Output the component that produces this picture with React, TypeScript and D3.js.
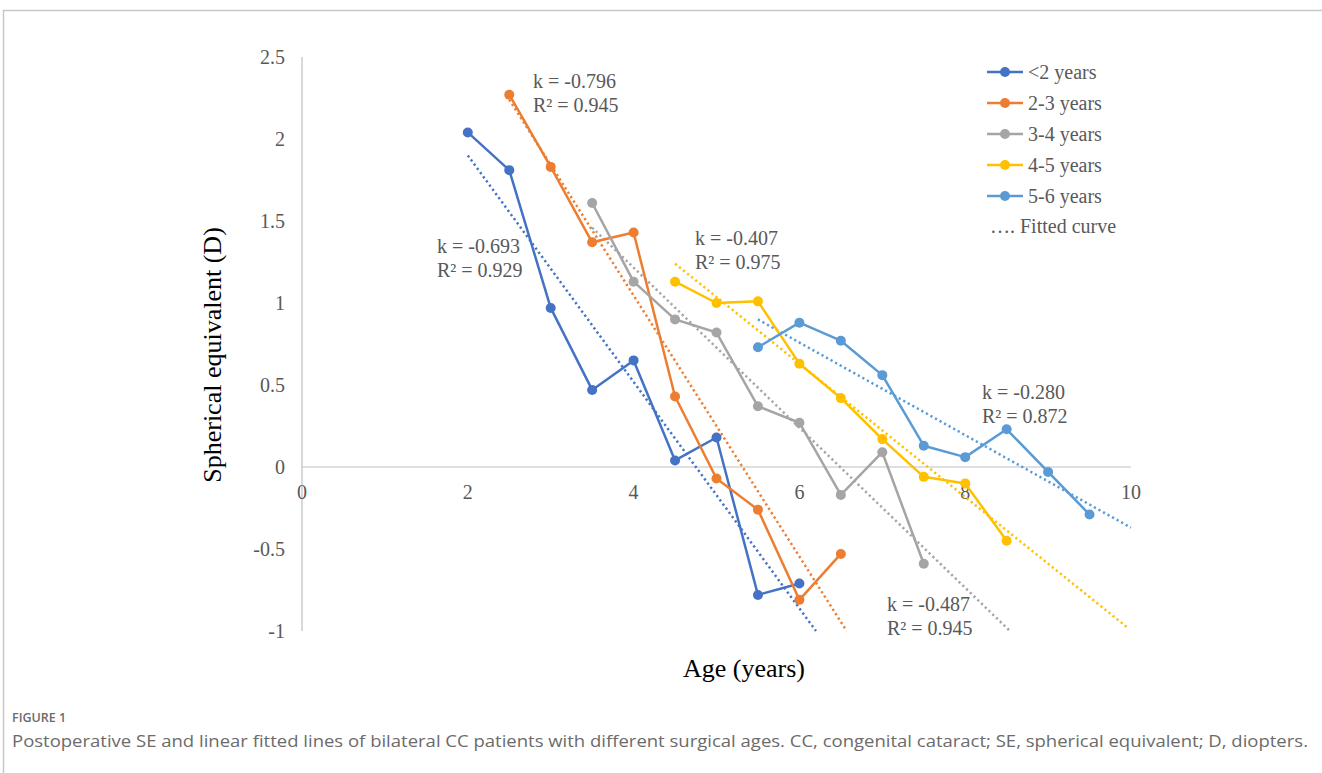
import React, { useRef, useEffect } from "react";
import * as d3 from "d3";

// ages (years after surgery) and spherical equivalent (D) for each surgical age group
const seriesNames = ["<2 years", "2-3 years", "3-4 years", "4-5 years", "5-6 years"];
const seriesColors = ["#4472C4", "#ED7D31", "#A5A5A5", "#FFC000", "#5B9BD5"];

const ageUnder2 = [2, 2.5, 3, 3.5, 4, 4.5, 5, 5.5, 6];
const seUnder2 = [2.04, 1.81, 0.97, 0.47, 0.65, 0.04, 0.18, -0.78, -0.71];

const age2to3 = [2.5, 3, 3.5, 4, 4.5, 5, 5.5, 6, 6.5];
const se2to3 = [2.27, 1.83, 1.37, 1.43, 0.43, -0.07, -0.26, -0.81, -0.53];

const age3to4 = [3.5, 4, 4.5, 5, 5.5, 6, 6.5, 7, 7.5];
const se3to4 = [1.61, 1.13, 0.9, 0.82, 0.37, 0.27, -0.17, 0.09, -0.59];

const age4to5 = [4.5, 5, 5.5, 6, 6.5, 7, 7.5, 8, 8.5];
const se4to5 = [1.13, 1.0, 1.01, 0.63, 0.42, 0.17, -0.06, -0.1, -0.45];

const age5to6 = [5.5, 6, 6.5, 7, 7.5, 8, 8.5, 9, 9.5];
const se5to6 = [0.73, 0.88, 0.77, 0.56, 0.13, 0.06, 0.23, -0.03, -0.29];

// fitted trend lines: [x0, y0, x1, y1]
const fitLines = [
  [2, 1.9, 6.2, -1.0],
  [2.5, 2.24, 6.57, -1.0],
  [3.5, 1.46, 8.54, -1.0],
  [4.5, 1.24, 9.96, -0.98],
  [5.5, 0.9, 10, -0.37],
];

// annotation labels: left x and baseline y in pixels, slope and R²
const fitLabels = [
  { x: 437, y: 253, k: "-0.693", r2: "0.929" },
  { x: 533, y: 88, k: "-0.796", r2: "0.945" },
  { x: 887, y: 611, k: "-0.487", r2: "0.945" },
  { x: 695, y: 245, k: "-0.407", r2: "0.975" },
  { x: 982, y: 399, k: "-0.280", r2: "0.872" },
];

const xTicks = [0, 2, 4, 6, 8, 10];
const yTicks = [-1, -0.5, 0, 0.5, 1, 1.5, 2, 2.5];

const captionTitle = "FIGURE 1";
const captionText =
  "Postoperative SE and linear fitted lines of bilateral CC patients with different surgical ages. CC, congenital cataract; SE, spherical equivalent; D, diopters.";

const App = () => {
  const svgRef = useRef<SVGSVGElement>(null);

  useEffect(() => {
    document.body.style.margin = "0";
    const width = 1322;
    const height = 773;
    const serif = "'Liberation Serif', 'Times New Roman', serif";
    const textGray = "#595959";

    const svg = d3.select(svgRef.current)
      .attr("width", width)
      .attr("height", height)
      .attr("viewBox", [0, 0, width, height].join(" "));
    svg.selectAll("*").remove();

    svg.append("rect").attr("width", width).attr("height", height).attr("fill", "#fff");

    // page frame
    svg.append("path")
      .attr("d", `M${width},10.5 H3.5 V${height}`)
      .attr("fill", "none")
      .attr("stroke", "#c8c8c8")
      .attr("stroke-width", 1.5);

    const x = d3.scaleLinear().domain([0, 10]).range([302, 1131]);
    const y = d3.scaleLinear().domain([-1, 2.5]).range([631, 57]);

    // axes
    svg.append("line")
      .attr("x1", x(0)).attr("x2", x(0))
      .attr("y1", y(2.5)).attr("y2", y(-1))
      .attr("stroke", "#BFBFBF").attr("stroke-width", 1.2);
    svg.append("line")
      .attr("x1", x(0)).attr("x2", x(10))
      .attr("y1", y(0)).attr("y2", y(0))
      .attr("stroke", "#BFBFBF").attr("stroke-width", 1.2);

    svg.append("g")
      .selectAll("text")
      .data(yTicks)
      .join("text")
      .attr("x", 285)
      .attr("y", (d) => y(d) + 7)
      .attr("text-anchor", "end")
      .attr("fill", textGray)
      .style("font-family", serif)
      .style("font-size", "20px")
      .text((d) => String(d));

    svg.append("g")
      .selectAll("text")
      .data(xTicks)
      .join("text")
      .attr("x", (d) => x(d))
      .attr("y", y(0) + 32)
      .attr("text-anchor", "middle")
      .attr("fill", textGray)
      .style("font-family", serif)
      .style("font-size", "20px")
      .text((d) => String(d));

    // axis titles
    svg.append("text")
      .attr("transform", "translate(221,355) rotate(-90)")
      .attr("text-anchor", "middle")
      .attr("fill", "#000")
      .style("font-family", serif)
      .style("font-size", "26px")
      .text("Spherical equivalent (D)");

    svg.append("text")
      .attr("x", 744)
      .attr("y", 677)
      .attr("text-anchor", "middle")
      .attr("fill", "#000")
      .style("font-family", serif)
      .style("font-size", "26px")
      .text("Age (years)");

    const allAges = [ageUnder2, age2to3, age3to4, age4to5, age5to6];
    const allSE = [seUnder2, se2to3, se3to4, se4to5, se5to6];

    // fitted dotted lines
    svg.append("g")
      .selectAll("line")
      .data(fitLines)
      .join("line")
      .attr("x1", (d) => x(d[0]))
      .attr("y1", (d) => y(d[1]))
      .attr("x2", (d) => x(d[2]))
      .attr("y2", (d) => y(d[3]))
      .attr("stroke", (d, i) => seriesColors[i])
      .attr("stroke-width", 2.5)
      .attr("stroke-dasharray", "2.2 3");

    const line = d3.line<[number, number]>()
      .x((d) => x(d[0]))
      .y((d) => y(d[1]));

    allAges.forEach((ages, i) => {
      const pts: [number, number][] = ages.map((a, j) => [a, allSE[i][j]]);
      const g = svg.append("g");
      g.append("path")
        .datum(pts)
        .attr("fill", "none")
        .attr("stroke", seriesColors[i])
        .attr("stroke-width", 2.5)
        .attr("stroke-linejoin", "round")
        .attr("d", line);
      g.selectAll("circle")
        .data(pts)
        .join("circle")
        .attr("cx", (d) => x(d[0]))
        .attr("cy", (d) => y(d[1]))
        .attr("r", 5)
        .attr("fill", seriesColors[i]);
    });

    // k / R² annotations
    const ann = svg.append("g")
      .attr("fill", textGray)
      .style("font-family", serif)
      .style("font-size", "20px");
    fitLabels.forEach((l) => {
      ann.append("text").attr("x", l.x).attr("y", l.y).text(`k = ${l.k}`);
      ann.append("text").attr("x", l.x).attr("y", l.y + 24).text(`R² = ${l.r2}`);
    });

    // legend
    const legend = svg.append("g").attr("transform", "translate(987,72)");
    seriesNames.forEach((name, i) => {
      const row = legend.append("g").attr("transform", `translate(0,${i * 31})`);
      row.append("line")
        .attr("x1", 0).attr("x2", 36)
        .attr("stroke", seriesColors[i])
        .attr("stroke-width", 2.5);
      row.append("circle").attr("cx", 18).attr("r", 5).attr("fill", seriesColors[i]);
      row.append("text")
        .attr("x", 41)
        .attr("y", 7)
        .attr("fill", textGray)
        .style("font-family", serif)
        .style("font-size", "20px")
        .text(name);
    });
    legend.append("text")
      .attr("x", 3)
      .attr("y", 5 * 31 - 1 + 7)
      .attr("fill", textGray)
      .style("font-family", serif)
      .style("font-size", "20px")
      .text("…. Fitted curve");

    // caption
    svg.append("text")
      .attr("x", 12)
      .attr("y", 722)
      .attr("fill", "#6b6b6b")
      .style("font-family", "'Open Sans', sans-serif")
      .style("font-size", "12.5px")
      .style("font-weight", "600")
      .text(captionTitle);

    svg.append("text")
      .attr("x", 12)
      .attr("y", 747)
      .attr("fill", "#6b6b6b")
      .attr("textLength", 1296)
      .attr("lengthAdjust", "spacingAndGlyphs")
      .style("font-family", "'Open Sans', sans-serif")
      .style("font-size", "17px")
      .text(captionText);
  }, []);

  return (
    <div style={{ width: 1322, height: 773 }}>
      <svg ref={svgRef} style={{ display: "block" }}></svg>
    </div>
  );
};

export default App;
